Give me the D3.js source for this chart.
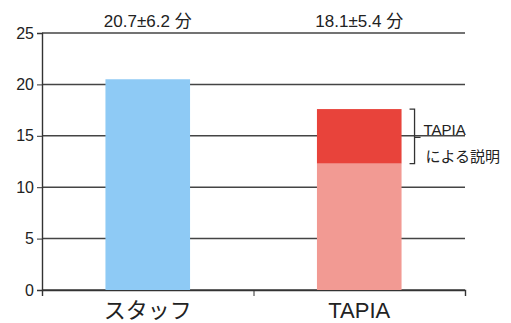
<!DOCTYPE html>
<html>
<head>
<meta charset="utf-8">
<script src="https://cdn.jsdelivr.net/npm/d3@7"></script>
<style>
  body { margin: 0; background: #fff; }
  text { font-family: "Liberation Sans", "Noto Sans CJK JP", sans-serif; fill: #222; }
</style>
</head>
<body>
<div id="chart"></div>
<script>
var categories = ["スタッフ", "TAPIA"];
var baseValues = [20.5, 12.3];
var tapiaExtra = [0, 5.3];
var topLabels = ["20.7±6.2 分", "18.1±5.4 分"];
var yTicks = [0, 5, 10, 15, 20, 25];
var bracketLabels = ["TAPIA", "による説明"];

var margin = { top: 33, right: 46, bottom: 33, left: 42 },
    width = 511 - margin.left - margin.right,
    height = 323 - margin.top - margin.bottom;

var svg = d3.select("#chart")
    .append("svg")
    .attr("width", 511)
    .attr("height", 323)
    .append("g")
    .attr("transform", "translate(" + margin.left + "," + margin.top + ")");

var x = d3.scaleBand()
    .domain(categories)
    .range([0, width])
    .paddingInner(0.6)
    .paddingOuter(0.3);

var y = d3.scaleLinear()
    .domain([0, 25])
    .range([height, 0]);

// grid lines
svg.selectAll("line.grid")
    .data(yTicks)
    .enter()
    .append("line")
    .attr("class", "grid")
    .attr("x1", 0)
    .attr("x2", width)
    .attr("y1", function (d) { return y(d); })
    .attr("y2", function (d) { return y(d); })
    .style("stroke", "#444")
    .style("stroke-width", 1.5);

// y axis
var yAxis = svg.append("g")
    .call(d3.axisLeft(y).tickValues(yTicks).tickSize(5).tickPadding(3));
yAxis.select(".domain").style("stroke", "#333").style("stroke-width", 1.4);
yAxis.selectAll(".tick line").style("stroke", "#333");
yAxis.selectAll("text").style("font-size", "16px").style("fill", "#222");

// x axis
var xAxis = svg.append("g")
    .attr("transform", "translate(0," + height + ")")
    .call(d3.axisBottom(d3.scaleLinear().domain([0, 2]).range([0, width])).ticks(2).tickSize(6).tickFormat(""));
xAxis.select(".domain").style("stroke", "#333").style("stroke-width", 1.4);
xAxis.selectAll(".tick line").style("stroke", "#333");

// bars
svg.selectAll("rect.base")
    .data(categories)
    .enter()
    .append("rect")
    .attr("class", "base")
    .attr("x", function (d) { return x(d); })
    .attr("width", x.bandwidth())
    .attr("y", function (d, i) { return y(baseValues[i]); })
    .attr("height", function (d, i) { return height - y(baseValues[i]); })
    .style("fill", function (d, i) { return i == 0 ? "#8ecaf5" : "#f29a93"; });

svg.selectAll("rect.extra")
    .data(categories)
    .enter()
    .append("rect")
    .attr("class", "extra")
    .attr("x", function (d) { return x(d); })
    .attr("width", x.bandwidth())
    .attr("y", function (d, i) { return y(baseValues[i] + tapiaExtra[i]); })
    .attr("height", function (d, i) { return y(baseValues[i]) - y(baseValues[i] + tapiaExtra[i]); })
    .style("fill", "#e8433b");

// labels above
svg.selectAll("text.top")
    .data(categories)
    .enter()
    .append("text")
    .attr("class", "top")
    .attr("x", function (d) { return x(d) + x.bandwidth() / 2; })
    .attr("y", -6)
    .attr("text-anchor", "middle")
    .style("font-size", "17px")
    .text(function (d, i) { return topLabels[i]; });

// category labels
svg.selectAll("text.cat")
    .data(categories)
    .enter()
    .append("text")
    .attr("class", "cat")
    .attr("x", function (d) { return x(d) + x.bandwidth() / 2; })
    .attr("y", height + 28)
    .attr("text-anchor", "middle")
    .style("font-size", "22px")
    .text(function (d) { return d; });

// bracket for TAPIA explanation
var bx = x("TAPIA") + x.bandwidth() + 13;
var yTop = y(baseValues[1] + tapiaExtra[1]), yBot = y(baseValues[1]);
svg.append("path")
    .attr("d", "M" + (bx - 5) + "," + yTop + " H" + bx + " V" + yBot + " H" + (bx - 5)
        + " M" + bx + "," + ((yTop + yBot) / 2 + 1) + " H" + (bx + 6))
    .style("fill", "none")
    .style("stroke", "#333")
    .style("stroke-width", 1.3);

svg.append("text")
    .attr("x", bx + 9)
    .attr("y", (yTop + yBot) / 2 - 1)
    .style("font-size", "15px")
    .text(bracketLabels[0]);

svg.append("text")
    .attr("x", bx + 11)
    .attr("y", yBot - 2)
    .style("font-size", "15px")
    .style("font-family", "Noto Sans CJK JP, sans-serif")
    .text(bracketLabels[1]);
</script>
</body>
</html>
